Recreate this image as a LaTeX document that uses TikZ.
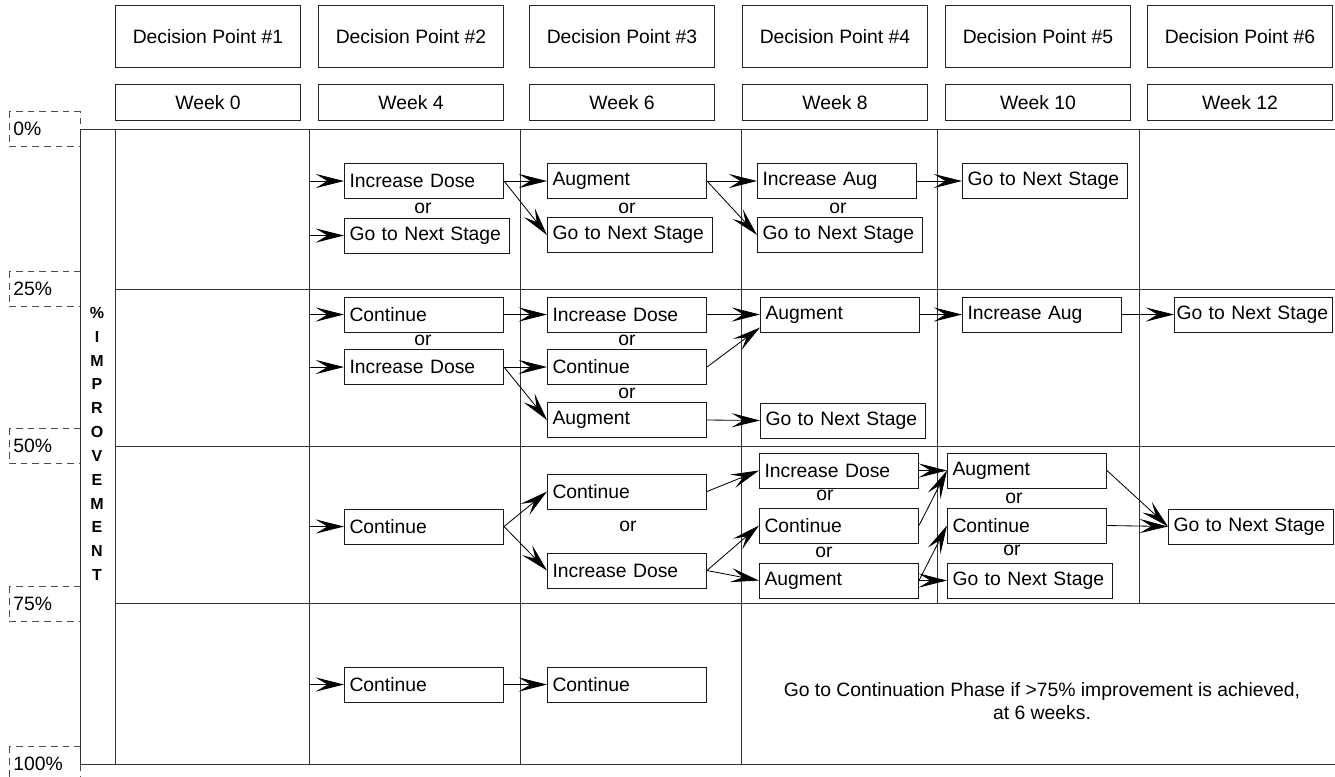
\documentclass[tikz,border=0pt]{standalone}
\usepackage{fontspec}
\setmainfont{Liberation Sans}
\usetikzlibrary{arrows.meta, positioning}
\tikzset{
    dpbox/.style={draw=black!85, line width=0.6pt, anchor=north west, minimum width=111pt, minimum height=37pt, inner sep=0pt},
    weekbox/.style={dpbox, minimum height=21.6pt},
    optbox/.style={draw=black!90, line width=0.6pt, anchor=west, text width=89.4pt, minimum height=21pt, inner xsep=3pt, inner ysep=0pt, align=left},
    nextbox/.style={optbox, text width=93pt},
    ortext/.style={inner sep=0pt},
    pctbox/.style={draw=black!70, dash pattern=on 4pt off 3pt, line width=0.5pt},
    tableline/.style={draw=black!80, line width=0.6pt},
    flow/.style={-{Stealth[length=17pt, width=8.5pt, inset=7pt]}, line width=0.5pt},
}

\begin{document}
\begin{tikzpicture}[x=0.6pt,y=-0.6pt,font=\fontsize{11.6}{14}\selectfont]
  \useasboundingbox (0,0) rectangle (1335,776);

  % headers
  \foreach \x/\wk [count=\i] in {115/0, 318/4, 529/6, 742/8, 945/10, 1147/12} {
    \node[dpbox] (dp\i) at (\x,5) {Decision Point \#\i};
    \node[weekbox] (wk\i) at (\x,84) {Week \wk};
  }

  % percent scale
  \foreach \y/\p in {129/0, 289/25, 446/50, 604/75, 764/100} {
    \draw[pctbox] (9,\y-17.5) rectangle (80,\y+17.5);
    \node[anchor=west, inner sep=0pt] (pct\p) at (13,\y) {\p\%};
  }
  \node[font=\bfseries\fontsize{9.6}{14.3}\selectfont, align=center] (impr) at (97,444)
    {\%\\I\\M\\P\\R\\O\\V\\E\\M\\E\\N\\T};

  % table
  \draw[tableline] (80,129) -- (1335,129);
  \draw[tableline] (1335,764) -- (80,764) -- (80,129);
  \draw[tableline] (115,129) -- (115,764);
  \foreach \y in {289,446,603} \draw[tableline] (115,\y) -- (1335,\y);
  \foreach \x in {309,520,741} \draw[tableline] (\x,129) -- (\x,764);
  \foreach \x in {937,1139} \draw[tableline] (\x,129) -- (\x,603);

  \coordinate (in1a) at (309,181);
  \coordinate (in1b) at (309,235.5);
  \coordinate (in2a) at (309,314.5);
  \coordinate (in2b) at (309,367);
  \coordinate (in3) at (309,526.5);
  \coordinate (in4) at (309,684.5);

  % 0-25%
  \node[optbox] (r1inc2) at (344,181) {Increase Dose};
  \node[ortext] (or1a) at (423,208) {or};
  \node[nextbox] (r1nxt2) at (344,235.5) {Go to Next Stage};
  \node[optbox] (r1aug3) at (547,181) {Augment};
  \node[ortext] (or1b) at (627,208) {or};
  \node[nextbox] (r1nxt3) at (547,235) {Go to Next Stage};
  \node[optbox] (r1iag4) at (757,181) {Increase Aug};
  \node[ortext] (or1c) at (838,208) {or};
  \node[nextbox] (r1nxt4) at (757,235) {Go to Next Stage};
  \node[nextbox] (r1nxt5) at (962,181) {Go to Next Stage};

  \draw[flow] (in1a) -- (r1inc2.west);
  \draw[flow] (in1b) -- (r1nxt2.west);
  \draw[flow] (r1inc2.east) -- (r1aug3.west);
  \draw[flow] (r1inc2.east) -- (r1nxt3.west);
  \draw[flow] (r1aug3.east) -- (r1iag4.west);
  \draw[flow] (r1aug3.east) -- (r1nxt4.west);
  \draw[flow] (r1iag4.east) -- (r1nxt5.west);

  % 25-50%
  \node[optbox] (r2con2) at (344,314.5) {Continue};
  \node[ortext] (or2a) at (423,340) {or};
  \node[optbox] (r2inc2) at (344,367) {Increase Dose};
  \node[optbox] (r2inc3) at (547,314.5) {Increase Dose};
  \node[ortext] (or2b) at (627,340) {or};
  \node[optbox] (r2con3) at (547,367) {Continue};
  \node[ortext] (or2c) at (627,393) {or};
  \node[optbox] (r2aug3) at (547,420) {Augment};
  \node[optbox] (r2aug4) at (760,314.5) {Augment};
  \node[nextbox] (r2nxt4) at (760,420.5) {Go to Next Stage};
  \node[optbox] (r2iag5) at (962,314.5) {Increase Aug};
  \node[optbox, text width=92.6pt, inner xsep=1.2pt] (r2nxt6) at (1174,314.5) {Go to Next Stage};

  \draw[flow] (in2a) -- (r2con2.west);
  \draw[flow] (in2b) -- (r2inc2.west);
  \draw[flow] (r2con2.east) -- (r2inc3.west);
  \draw[flow] (r2inc2.east) -- (r2con3.west);
  \draw[flow] (r2inc2.east) -- (r2aug3.west);
  \draw[flow] (r2inc3.east) -- (r2aug4.west);
  \draw[flow] (r2con3.east) -- ([yshift=3pt]r2aug4.south west);
  \draw[flow] (r2aug3.east) -- (r2nxt4.west);
  \draw[flow] (r2aug4.east) -- (r2iag5.west);
  \draw[flow] (r2iag5.east) -- (r2nxt6.west);

  % 50-75%
  \node[optbox] (r3con2) at (344,526.5) {Continue};
  \node[optbox] (r3con3) at (547,491.5) {Continue};
  \node[ortext] (or3a) at (628,526) {or};
  \node[optbox] (r3inc3) at (547,570.5) {Increase Dose};
  \node[optbox] (r3inc4) at (759,470.5) {Increase Dose};
  \node[ortext] (or3b) at (825,495) {or};
  \node[optbox] (r3con4) at (759,525.5) {Continue};
  \node[ortext] (or3c) at (824,552) {or};
  \node[optbox] (r3aug4) at (759,580.5) {Augment};
  \node[optbox] (r3aug5) at (947,470.5) {Augment};
  \node[ortext] (or3d) at (1014,498) {or};
  \node[optbox] (r3con5) at (947,525.5) {Continue};
  \node[ortext] (or3e) at (1012,550) {or};
  \node[nextbox] (r3nxt5) at (947,580.5) {Go to Next Stage};
  \node[nextbox] (r3nxt6) at (1168,526.5) {Go to Next Stage};

  \draw[flow] (in3) -- (r3con2.west);
  \draw[flow] (r3con2.east) -- (r3con3.west);
  \draw[flow] (r3con2.east) -- (r3inc3.west);
  \draw[flow] (r3con3.east) -- (r3inc4.west);
  \draw[flow] (r3inc3.east) -- (r3con4.west);
  \draw[flow] (r3inc3.east) -- (r3aug4.west);
  \draw[flow] (r3inc4.east) -- (r3aug5.west);
  \draw[flow] (r3con4.east) -- (r3aug5.west);
  \draw[flow] (r3aug4.east) -- (r3con5.west);
  \draw[flow] (r3aug4.east) -- (r3nxt5.west);
  \draw[flow] (r3aug5.east) -- (r3nxt6.west);
  \draw[flow] (r3con5.east) -- (r3nxt6.west);

  % 75-100%
  \node[optbox] (r4con2) at (344,684.5) {Continue};
  \node[optbox] (r4con3) at (547,684.5) {Continue};
  \node[align=center, font=\fontsize{11.6}{13.8}\selectfont] (note) at (1042,701.5)
    {Go to Continuation Phase if >75\% improvement is achieved,\\at 6 weeks.};

  \draw[flow] (in4) -- (r4con2.west);
  \draw[flow] (r4con2.east) -- (r4con3.west);
\end{tikzpicture}
\end{document}
